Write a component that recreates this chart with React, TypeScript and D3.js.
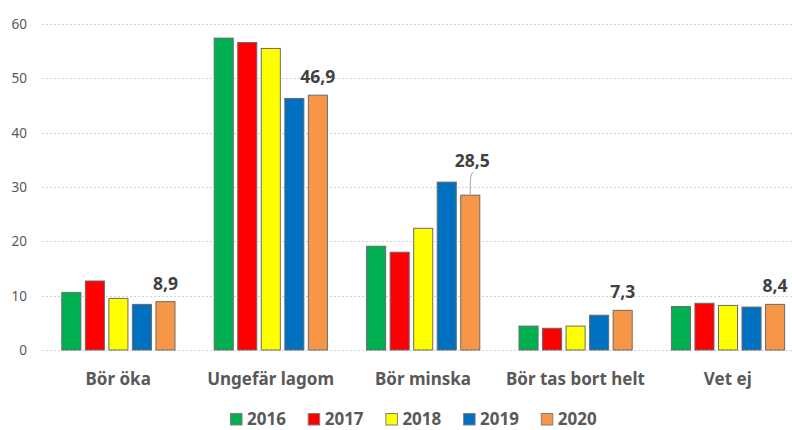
import React, { useEffect, useRef } from 'react';
import * as d3 from 'd3';

const categories = ['Bör öka', 'Ungefär lagom', 'Bör minska', 'Bör tas bort helt', 'Vet ej'];
const years = ['2016', '2017', '2018', '2019', '2020'];
const colors = ['#00B050', '#FF0000', '#FFFF00', '#0070C0', '#F79646'];

// one array per year, in category order
const v2016 = [10.6, 57.4, 19.1, 4.4, 8.0];
const v2017 = [12.7, 56.6, 18.0, 4.0, 8.6];
const v2018 = [9.5, 55.5, 22.4, 4.4, 8.2];
const v2019 = [8.4, 46.3, 30.9, 6.4, 7.9];
const v2020 = [8.9, 46.9, 28.5, 7.3, 8.4];
const series = [v2016, v2017, v2018, v2019, v2020];

const yTicks = [0, 10, 20, 30, 40, 50, 60];
const labelFmt = (v: number) => v.toFixed(1).replace('.', ',');

const FONT = '"Noto Sans", "DejaVu Sans", sans-serif';

export default function App() {
  const ref = useRef<SVGSVGElement>(null);

  useEffect(() => {
    const width = 792;
    const height = 430;
    const margin = { top: 24, left: 42, bottom: 80 };
    const plotRight = 804; // the last group is cut off by the picture edge

    const svg = d3.select(ref.current);
    svg.selectAll('*').remove();

    const x = d3.scaleBand<string>()
      .domain(categories)
      .range([margin.left, plotRight])
      .paddingInner(0)
      .paddingOuter(0);

    const x1 = d3.scaleBand<string>()
      .domain(years)
      .range([19.8, x.bandwidth() - 19.4])
      .paddingInner(0.19);

    const y = d3.scaleLinear()
      .domain([0, 60])
      .range([height - margin.bottom, margin.top]);

    // grid
    svg.append('g')
      .selectAll('line')
      .data(yTicks)
      .enter()
      .append('line')
      .attr('x1', margin.left)
      .attr('x2', width)
      .attr('y1', (d) => Math.round(y(d)) + 0.5)
      .attr('y2', (d) => Math.round(y(d)) + 0.5)
      .style('stroke', '#D0D0D0')
      .style('stroke-width', 1)
      .style('stroke-dasharray', '2,2');

    // y tick labels
    svg.append('g')
      .selectAll('text')
      .data(yTicks)
      .enter()
      .append('text')
      .attr('x', 27)
      .attr('y', (d) => y(d) + 5)
      .attr('text-anchor', 'end')
      .style('font-family', FONT)
      .style('font-size', '13.5px')
      .style('fill', '#595959')
      .text((d) => d);

    // bars
    const groups = svg.append('g')
      .selectAll('g')
      .data(categories)
      .enter()
      .append('g')
      .attr('transform', (d) => `translate(${x(d)},0)`);

    groups.selectAll('rect')
      .data((d, i) => series.map((s, j) => ({ year: years[j], value: s[i], color: colors[j] })))
      .enter()
      .append('rect')
      .attr('x', (d) => x1(d.year) as number)
      .attr('width', x1.bandwidth())
      .attr('y', (d) => y(d.value))
      .attr('height', (d) => y(0) - y(d.value))
      .style('fill', (d) => d.color)
      .style('stroke', '#6b6b6b')
      .style('stroke-width', 1);

    // value labels for 2020
    const last = years[years.length - 1];
    categories.forEach((c, i) => {
      const v = v2020[i];
      const cx = (x(c) as number) + (x1(last) as number) + x1.bandwidth() / 2;
      const lifted = i === 2;
      const ly = lifted ? y(v) - 28 : y(v) - 12;
      if (lifted) {
        svg.append('path')
          .attr('d', `M${cx},${y(v) - 1} L${cx},${y(v) - 10} Q${cx},${ly + 6} ${cx + 3},${ly + 5}`)
          .style('fill', 'none')
          .style('stroke', '#A6A6A6')
          .style('stroke-width', 1);
      }
      svg.append('text')
        .attr('x', cx + (lifted ? 2 : 0))
        .attr('y', ly)
        .attr('text-anchor', 'middle')
        .style('font-family', FONT)
        .style('font-size', '17.5px')
        .style('font-weight', 'bold')
        .style('fill', '#404040')
        .text(labelFmt(v));
    });

    // category labels
    svg.append('g')
      .selectAll('text')
      .data(categories)
      .enter()
      .append('text')
      .attr('x', (d) => (x(d) as number) + x.bandwidth() / 2)
      .attr('y', 385)
      .attr('text-anchor', 'middle')
      .style('font-family', FONT)
      .style('font-size', '17px')
      .style('font-weight', 'bold')
      .style('fill', '#595959')
      .text((d) => d);

    // legend
    const legend = svg.append('g')
      .selectAll('g')
      .data(years)
      .enter()
      .append('g')
      .attr('transform', (d, i) => `translate(${230 + i * 77.7},413)`);

    legend.append('rect')
      .attr('x', 0.5)
      .attr('y', 0.5)
      .attr('width', 11.5)
      .attr('height', 11.5)
      .style('fill', (d, i) => colors[i])
      .style('stroke', '#7f7f7f')
      .style('stroke-width', 1);

    legend.append('text')
      .attr('x', 17)
      .attr('y', 12)
      .style('font-family', FONT)
      .style('font-size', '17px')
      .style('font-weight', 'bold')
      .style('fill', '#595959')
      .text((d) => d);
  }, []);

  return (
    <svg
      ref={ref}
      width={792}
      height={430}
      style={{ position: 'absolute', left: 0, top: 0, background: '#ffffff' }}
    />
  );
}
